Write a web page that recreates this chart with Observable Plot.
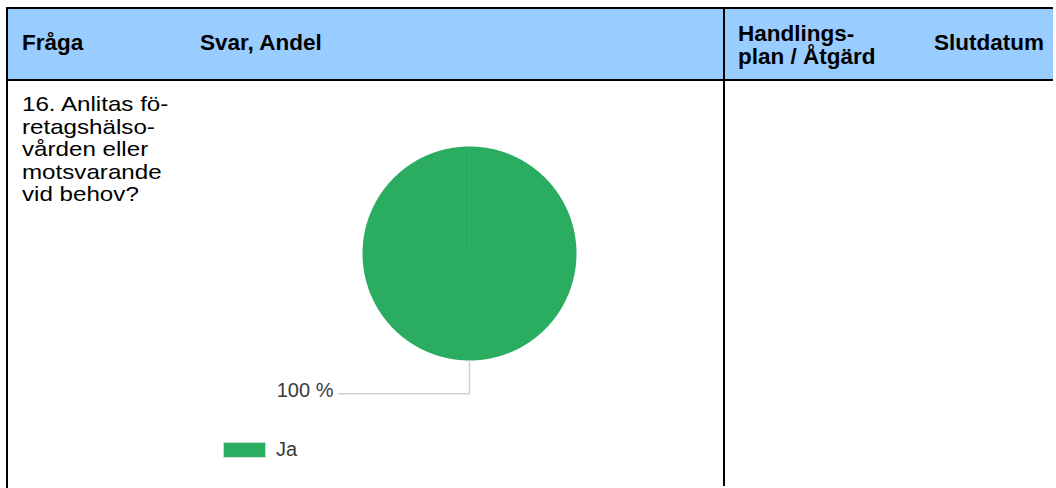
<!DOCTYPE html>
<html>
<head>
<meta charset="utf-8">
<script src="https://cdn.jsdelivr.net/npm/d3@7"></script>
<script src="https://cdn.jsdelivr.net/npm/@observablehq/plot@0.6"></script>
<style>
  html, body { margin: 0; padding: 0; background: #fff; }
  body { width: 1056px; height: 488px; position: relative; overflow: hidden; font-family: "Liberation Sans", Arial, sans-serif; }
  .abs { position: absolute; }
  .hdr { position: absolute; font-weight: bold; font-size: 22.5px; color: #000; white-space: nowrap; }
  #q { position: absolute; left: 22px; top: 93px; font-size: 21px; line-height: 22.5px; color: #000; transform: scaleX(1.15); transform-origin: 0 0; white-space: nowrap; }
  #legend { position: absolute; left: 223px; top: 438px; display: flex; align-items: center; font-family: "Liberation Sans", Arial, sans-serif; font-size: 20px; color: #3a3a3a; }
  #legend .sw { width: 41px; height: 14px; border: 1px solid #c8dccf; margin-right: 10px; }
  #chart { position: absolute; left: 0; top: 0; }
</style>
</head>
<body>
<div id="table"></div>
<div id="q"></div>
<div id="legend"></div>
<div id="chart"></div>
<script>
// ---- data ----
const headers = ["Fråga", "Svar, Andel", "Handlings-\nplan / Åtgärd", "Slutdatum"];
const questionLines = ["16. Anlitas fö-", "retagshälso-", "vården eller", "motsvarande", "vid behov?"];
const categories = ["Ja"];
const values = [100];
const colors = ["#2aad61"];

// ---- table (HTML) ----
const t = document.getElementById("table");
function box(style) { const d = document.createElement("div"); d.className = "abs"; Object.assign(d.style, style); t.appendChild(d); return d; }
box({left: "8px", top: "9px", width: "1045px", height: "70px", background: "#99ccff"});
box({left: "6px", top: "7px", width: "1047px", height: "2px", background: "#000"});
box({left: "6px", top: "79px", width: "1047px", height: "2px", background: "#000"});
box({left: "6px", top: "7px", width: "2px", height: "481px", background: "#000"});
box({left: "723px", top: "7px", width: "2px", height: "479px", background: "#000"});

const hdrPos = [{left: 22, top: 31}, {left: 200, top: 31}, {left: 738, top: 22}, {left: 934, top: 31}];
headers.forEach((h, i) => {
  const d = document.createElement("div");
  d.className = "hdr";
  d.style.left = hdrPos[i].left + "px";
  d.style.top = hdrPos[i].top + "px";
  d.style.lineHeight = "23px";
  d.innerHTML = h.split("\n").join("<br>");
  t.appendChild(d);
});
document.getElementById("q").innerHTML = questionLines.join("<br>");

// ---- legend ----
const lg = document.getElementById("legend");
categories.forEach((c, i) => {
  const sw = document.createElement("div"); sw.className = "sw"; sw.style.background = colors[i];
  const tx = document.createElement("span"); tx.textContent = c;
  lg.appendChild(sw); lg.appendChild(tx);
});

// ---- pie via Plot ----
const total = d3.sum(values);
const arcs = d3.pie().sort(null)(values);
const slicePts = [];
const edgePts = [];
arcs.forEach((a, i) => {
  const n = Math.max(2, Math.ceil((a.endAngle - a.startAngle) / 0.01));
  slicePts.push({k: categories[i], x: 0, y: 0});
  for (let j = 0; j <= n; j++) {
    const ang = a.startAngle + (a.endAngle - a.startAngle) * j / n;
    slicePts.push({k: categories[i], x: Math.sin(ang), y: Math.cos(ang)});
  }
  edgePts.push({k: categories[i], x: 0, y: 0});
  edgePts.push({k: categories[i], x: Math.sin(a.startAngle), y: Math.cos(a.startAngle)});
});
const drop = 0.31, reach = 1.225;
const leader = [], labels = [];
arcs.forEach((a, i) => {
  const mid = (a.startAngle + a.endAngle) / 2;
  const px = Math.sin(mid), py = Math.cos(mid);
  leader.push({k: categories[i], x: px, y: py});
  leader.push({k: categories[i], x: px, y: py - drop});
  leader.push({k: categories[i], x: px - reach, y: py - drop});
  labels.push({x: px - reach, y: py - drop, text: Math.round(values[i] / total * 100) + " %"});
});

const plot = Plot.plot({
  width: 1056,
  height: 488,
  margin: 0,
  x: {domain: [-1, 1], range: [362, 576], axis: null},
  y: {domain: [-1, 1], range: [360, 146], axis: null},
  color: {domain: categories, range: colors},
  marks: [
    Plot.line(slicePts, {x: "x", y: "y", z: "k", fill: "k", stroke: "none", curve: "linear-closed"}),
    Plot.line(edgePts, {x: "x", y: "y", z: "k", stroke: "#7a9a86", strokeOpacity: 0.45, strokeWidth: 1}),
    Plot.line(leader, {x: "x", y: "y", z: "k", stroke: "#cfcfcf", strokeWidth: 1.5}),
    Plot.text(labels, {x: "x", y: "y", text: "text", textAnchor: "end", dx: -5, dy: -3, fontSize: 20, fill: "#3a3a3a", fontFamily: "Liberation Sans, Arial, sans-serif"})
  ]
});
plot.style.background = "transparent";
plot.style.maxWidth = "none";
document.getElementById("chart").appendChild(plot);
</script>
</body>
</html>
